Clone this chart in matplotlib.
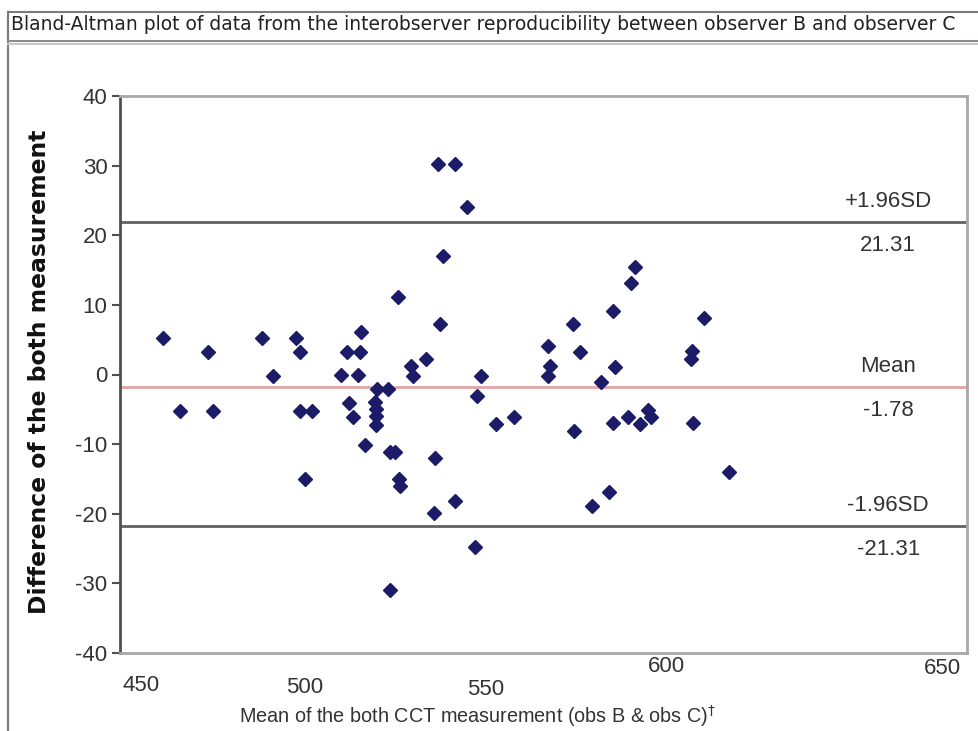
import matplotlib.pyplot as plt
from matplotlib.lines import Line2D

# mean of obs B & obs C (x) and their difference (y)
mean_cct = [461.9, 466.6, 474.3, 475.7, 489.2, 492.3, 498.6, 499.7, 499.7, 503.0,
            501.1, 511.0, 512.7, 515.7, 516.3, 516.6, 513.3, 514.4, 517.7, 520.4,
            520.7, 520.7, 520.7, 521.0, 524.0, 524.6, 526.0, 526.8, 524.6, 527.1,
            527.3, 530.4, 531.0, 534.5, 537.0, 536.7, 537.8, 539.2, 538.4, 542.5,
            542.5, 545.9, 548.1, 548.6, 549.7, 553.9, 558.8, 568.2, 568.8, 568.2,
            575.4, 575.1, 577.1, 580.4, 582.9, 585.1, 586.2, 586.2, 586.7, 590.3,
            591.2, 592.3, 593.6, 595.9, 596.7, 607.7, 608.0, 608.3, 611.3, 618.2]
diff = [5.2, -5.2, 3.2, -5.2, 5.2, -0.2, 5.2, 3.2, -5.2, -5.2,
        -15.0, 0.0, 3.2, 0.0, 3.2, 6.1, -4.1, -6.1, -10.1, -4.0,
        -5.0, -6.0, -7.3, -2.1, -2.1, -11.1, -11.1, 11.1, -31.0, -15.0,
        -16.0, 1.2, -0.2, 2.2, -12.0, -19.9, 30.2, 17.0, 7.3, 30.2,
        -18.2, 24.1, -24.8, -3.1, -0.2, -7.1, -6.1, 4.1, 1.2, -0.2,
        -8.1, 7.3, 3.2, -18.9, -1.1, -16.9, 9.1, -7.0, 1.1, -6.1,
        13.1, 15.4, -7.1, -5.1, -6.1, 2.2, 3.4, -7.0, 8.1, -14.0]

# reference lines: drawn level, label above, label below
levels = [21.9, -1.78, -21.8]
labels_above = ['+1.96SD', 'Mean', '-1.96SD']
labels_below = ['21.31', '-1.78', '-21.31']
line_colors = ['#606060', '#e2a4a4', '#606060']

yticks = list(range(-40, 41, 10))
xtick_labels = ['450', '500', '550', '600', '650']
xtick_pos = [455.8, 501.1, 551.1, 601.1, 677.3]

W, H = 979, 731
SANS = ['Liberation Sans', 'DejaVu Sans']

fig = plt.figure(figsize=(W / 100, H / 100), dpi=100)
ax = fig.add_axes([120 / W, 1 - 653 / H, (967 - 120) / W, (653 - 96) / H])

for lvl, col in zip(levels, line_colors):
    ax.axhline(lvl, color=col, lw=2, zorder=1)

ax.plot(mean_cct, diff, 'D', color='#1b1b68', ms=7, ls='none', zorder=3)

ax.set_xlim(450, 684)
ax.set_ylim(-40, 40)

for side in ['top', 'right', 'bottom']:
    ax.spines[side].set_color('#a8a8a8')
    ax.spines[side].set_linewidth(2)
ax.spines['left'].set_color('#505050')
ax.spines['left'].set_linewidth(2)

ax.set_yticks(yticks)
ax.set_yticklabels([str(v) for v in yticks], family=SANS, fontsize=16, color='#333333')
ax.tick_params(axis='y', direction='out', length=6, width=1.5, color='#505050', pad=3)
ax.set_xticks([])

x_lab_y = [-0.058, -0.062, -0.066, -0.025, -0.027]
for pos, lab, yy in zip(xtick_pos, xtick_labels, x_lab_y):
    ax.text(pos, yy, lab, transform=ax.get_xaxis_transform(), ha='center', va='center',
            family=SANS, fontsize=16, color='#333333')

for lvl, up, down in zip(levels, labels_above, labels_below):
    ax.annotate(up, xy=(0.907, lvl), xycoords=('axes fraction', 'data'),
                xytext=(0, 15), textcoords='offset points', ha='center', va='center',
                family=SANS, fontsize=16, color='#333333')
    ax.annotate(down, xy=(0.907, lvl), xycoords=('axes fraction', 'data'),
                xytext=(0, -17), textcoords='offset points', ha='center', va='center',
                family=SANS, fontsize=16, color='#333333')

fig.text(40 / W, 1 - 372 / H, 'Difference of the both measurement', rotation=90,
         ha='center', va='center', family='DejaVu Sans',
         fontsize=16.9, fontweight='bold', color='#111111')
fig.text(478 / W, 1 - 716 / H,
         r'Mean of the both CCT measurement (obs B & obs C)$^{\dagger}$',
         ha='center', va='center', family=SANS, fontsize=14.3, color='#333333')

# panel frame and title band
fig.add_artist(Line2D([8 / W, 8 / W], [0, 1 - 12 / H], transform=fig.transFigure,
                      color='#7a7a7a', lw=1.5))
fig.add_artist(Line2D([8 / W, 1], [1 - 12 / H, 1 - 12 / H], transform=fig.transFigure,
                      color='#7a7a7a', lw=1.5))
fig.add_artist(Line2D([8 / W, 1], [1 - 41 / H, 1 - 41 / H], transform=fig.transFigure,
                      color='#8c8c8c', lw=1.5))
fig.add_artist(Line2D([8 / W, 1], [1 - 44 / H, 1 - 44 / H], transform=fig.transFigure,
                      color='#c8c8c8', lw=1.5))
fig.text(11 / W, 1 - 25 / H,
         'Bland-Altman plot of data from the interobserver reproducibility between observer B and observer C',
         ha='left', va='center', family='DejaVu Sans', fontsize=13.5, color='#222222')

fig.savefig('out.png', dpi=100)
